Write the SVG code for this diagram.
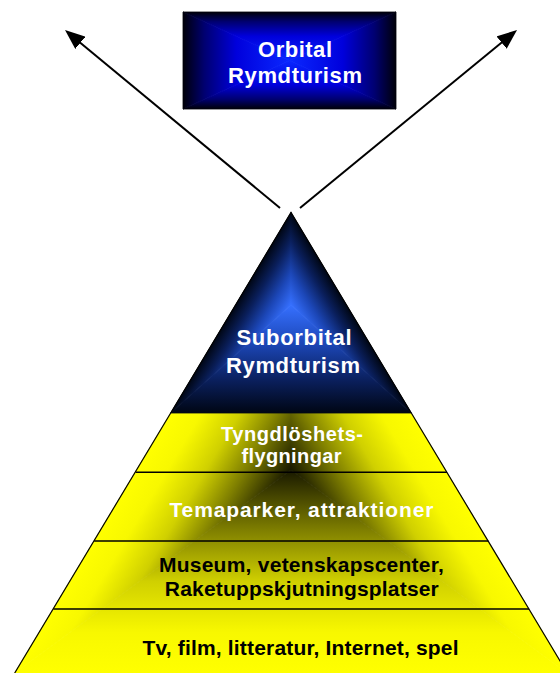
<svg xmlns="http://www.w3.org/2000/svg" width="560" height="673" viewBox="0 0 560 673">
<style>
.t{font-family:"Liberation Sans",Arial,sans-serif;font-weight:bold;text-anchor:middle}
.w{fill:#ffffff}
.k{fill:#000000}
.sep{stroke:#000;stroke-width:1.6;fill:none}
.edge{stroke:#000;stroke-width:1.2;fill:none}
.conn{stroke:#000;stroke-width:2;fill:none}
</style>
<defs>
<linearGradient id="boxStops">
<stop offset="0" stop-color="#000008"/>
<stop offset="0.2" stop-color="#000070"/>
<stop offset="0.5" stop-color="#0000dc"/>
<stop offset="1" stop-color="#0a28ff"/>
</linearGradient>
<linearGradient id="bT" href="#boxStops" gradientUnits="userSpaceOnUse" x1="289.5" y1="12" x2="289.5" y2="60.5"/>
<linearGradient id="bB" href="#boxStops" gradientUnits="userSpaceOnUse" x1="289.5" y1="109" x2="289.5" y2="60.5"/>
<linearGradient id="bL" href="#boxStops" gradientUnits="userSpaceOnUse" x1="183" y1="60.5" x2="289.5" y2="60.5"/>
<linearGradient id="bR" href="#boxStops" gradientUnits="userSpaceOnUse" x1="396" y1="60.5" x2="289.5" y2="60.5"/>
<linearGradient id="triStops">
<stop offset="0" stop-color="#000614"/>
<stop offset="0.3" stop-color="#0a1f5c"/>
<stop offset="0.65" stop-color="#1c47b8"/>
<stop offset="1" stop-color="#3670ff"/>
</linearGradient>
<linearGradient id="tL" href="#triStops" gradientUnits="userSpaceOnUse" x1="250.2" y1="280.5" x2="291" y2="305"/>
<linearGradient id="tR" href="#triStops" gradientUnits="userSpaceOnUse" x1="331.8" y1="280.5" x2="291" y2="305"/>
<linearGradient id="tB" href="#triStops" gradientUnits="userSpaceOnUse" x1="291" y1="413" x2="291" y2="305"/>
<linearGradient id="yStops">
<stop offset="0" stop-color="#ffff00"/>
<stop offset="0.2" stop-color="#f8f800"/>
<stop offset="0.45" stop-color="#d0d000"/>
<stop offset="0.7" stop-color="#808000"/>
<stop offset="1" stop-color="#181800"/>
</linearGradient>
<linearGradient id="yL" href="#yStops" gradientUnits="userSpaceOnUse" x1="177.4" y1="401.8" x2="291" y2="470"/>
<linearGradient id="yR" href="#yStops" gradientUnits="userSpaceOnUse" x1="404.6" y1="401.8" x2="291" y2="470"/>
<linearGradient id="yB" href="#yStops" gradientUnits="userSpaceOnUse" x1="291" y1="673" x2="291" y2="470"/>
<marker id="ah" viewBox="0 0 20 16" refX="10" refY="8" markerWidth="20" markerHeight="16" markerUnits="userSpaceOnUse" orient="auto">
<path d="M0,0 L20,8 L0,16 Z" fill="#000"/>
</marker>
</defs>

<g id="pyramid-base">
<polygon points="170.7,413 291,413 291,470 14.7,673" fill="url(#yL)" stroke="url(#yL)" stroke-width="0.8"/>
<polygon points="411.3,413 291,413 291,470 567.3,673" fill="url(#yR)" stroke="url(#yR)" stroke-width="0.8"/>
<polygon points="291,470 14.7,673 567.3,673" fill="url(#yB)" stroke="url(#yB)" stroke-width="0.8"/>
<line class="edge" x1="170.7" y1="413" x2="14.7" y2="673"/>
<line class="edge" x1="411.3" y1="413" x2="567.3" y2="673"/>
</g>

<g id="band-tyngdloshet">
<text class="t w" font-size="20" x="292" y="440.7" textLength="142" lengthAdjust="spacing">Tyngdlöshets-</text>
<text class="t w" font-size="20" x="291.5" y="463" textLength="100" lengthAdjust="spacing">flygningar</text>
</g>
<g id="band-temaparker">
<line class="sep" x1="135.6" y1="472.3" x2="447" y2="472.3"/>
<text class="t w" font-size="21" x="301.4" y="517" textLength="264" lengthAdjust="spacing">Temaparker, attraktioner</text>
</g>
<g id="band-museum">
<line class="sep" x1="94.2" y1="541" x2="488.3" y2="541"/>
<text class="t k" font-size="21" x="301.4" y="571.7" textLength="285" lengthAdjust="spacing">Museum, vetenskapscenter,</text>
<text class="t k" font-size="21" x="301.8" y="596" textLength="274" lengthAdjust="spacing">Raketuppskjutningsplatser</text>
</g>
<g id="band-media">
<line class="sep" x1="53.4" y1="609" x2="529.1" y2="609"/>
<text class="t k" font-size="21" x="300.5" y="655" textLength="316" lengthAdjust="spacing">Tv, film, litteratur, Internet, spel</text>
</g>

<g id="node-suborbital">
<polygon points="291,212.5 170.7,413 291,305" fill="url(#tL)" stroke="url(#tL)" stroke-width="0.8"/>
<polygon points="291,212.5 411.3,413 291,305" fill="url(#tR)" stroke="url(#tR)" stroke-width="0.8"/>
<polygon points="170.7,413 411.3,413 291,305" fill="url(#tB)" stroke="url(#tB)" stroke-width="0.8"/>
<polyline class="edge" points="170.7,413 291,212.5 411.3,413"/>
<text class="t w" font-size="22" x="294" y="345" textLength="115" lengthAdjust="spacing">Suborbital</text>
<text class="t w" font-size="22" x="293" y="372.7" textLength="134" lengthAdjust="spacing">Rymdturism</text>
</g>

<g id="node-orbital">
<polygon points="183,12 396,12 289.5,60.5" fill="url(#bT)" stroke="url(#bT)" stroke-width="0.8"/>
<polygon points="183,109 396,109 289.5,60.5" fill="url(#bB)" stroke="url(#bB)" stroke-width="0.8"/>
<polygon points="183,12 183,109 289.5,60.5" fill="url(#bL)" stroke="url(#bL)" stroke-width="0.8"/>
<polygon points="396,12 396,109 289.5,60.5" fill="url(#bR)" stroke="url(#bR)" stroke-width="0.8"/>
<text class="t w" font-size="22" x="295" y="57" textLength="74" lengthAdjust="spacing">Orbital</text>
<text class="t w" font-size="22" x="295" y="83" textLength="134" lengthAdjust="spacing">Rymdturism</text>
</g>

<g id="connectors">
<line class="conn" x1="280" y1="208" x2="72.7" y2="36.4" marker-end="url(#ah)"/>
<line class="conn" x1="300" y1="208" x2="509.3" y2="36.3" marker-end="url(#ah)"/>
</g>
</svg>
